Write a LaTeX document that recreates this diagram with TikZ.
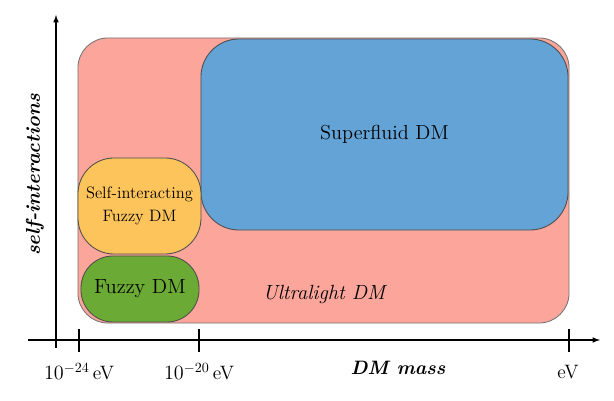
\documentclass[tikz,border=0pt]{standalone}
\usetikzlibrary{positioning}

\begin{document}
\begin{tikzpicture}[x=0.025cm, y=0.025cm,
    region/.style={draw=black!70, line width=0.6pt, inner sep=0pt},
    txt/.style={font=\fontsize{13.8}{16}\selectfont},
    axis/.style={line width=0.8pt},
    tick/.style={line width=0.8pt}]

% Define colors
\definecolor{ulred}{RGB}{251, 165, 155}
\definecolor{sfblue}{RGB}{99, 163, 214}
\definecolor{sifyellow}{RGB}{252, 196, 90}
\definecolor{fzgreen}{RGB}{108, 170, 54}

\useasboundingbox (0, 0) rectangle (614, 401);

% Draw the regions
\node[region, draw=black!55, fill=ulred, rounded corners=0.75cm,
      minimum width=12.275cm, minimum height=7.125cm] (ultralight) at (323.5, 220.5) {};
\node[region, fill=sfblue, rounded corners=0.95cm,
      minimum width=9.175cm, minimum height=4.775cm, font=\fontsize{14.4}{16}\selectfont] (superfluid) at (384.5, 266.5) {Superfluid DM};
\node[region, fill=sifyellow, rounded corners=0.9cm, align=center,
      minimum width=3.075cm, minimum height=2.4cm, font=\fontsize{11.75}{16}\selectfont] (sifuzzy) at (139.5, 195) {Self-interacting\\Fuzzy DM};
\node[region, fill=fzgreen, rounded corners=0.8cm,
      minimum width=2.95cm, minimum height=1.65cm, font=\fontsize{14.6}{16}\selectfont] (fuzzy) at (140, 112) {Fuzzy DM};

\node[txt, font=\fontsize{14.6}{16}\selectfont] (ullabel) at (325, 107) {\textit{Ultralight DM}};

% Draw the axes
\coordinate (xstart) at (28, 61);
\coordinate (xend) at (600, 61);
\coordinate (ystart) at (56, 53);
\coordinate (yend) at (56, 386);
\draw[axis, -latex] (xstart) -- (xend);
\draw[axis, -latex] (ystart) -- (yend);

% Ticks
\draw[tick] (79, 49) -- (79, 72);
\draw[tick] (199, 49) -- (199, 72);
\draw[tick] (569, 49) -- (569, 72);

% Add labels
\node[txt] (m24) at (79, 29) {$10^{-24}\,$eV};
\node[txt] (m20) at (199, 29) {$10^{-20}\,$eV};
\node[txt] (m0) at (568, 29) {eV};
\node[txt] (xlabel) at (398, 33) {\textbf{\textit{DM mass}}};
\node[txt, font=\fontsize{14.2}{16}\selectfont, rotate=90] (ylabel) at (35, 226) {\textbf{\textit{self-interactions}}};

\end{tikzpicture}
\end{document}
